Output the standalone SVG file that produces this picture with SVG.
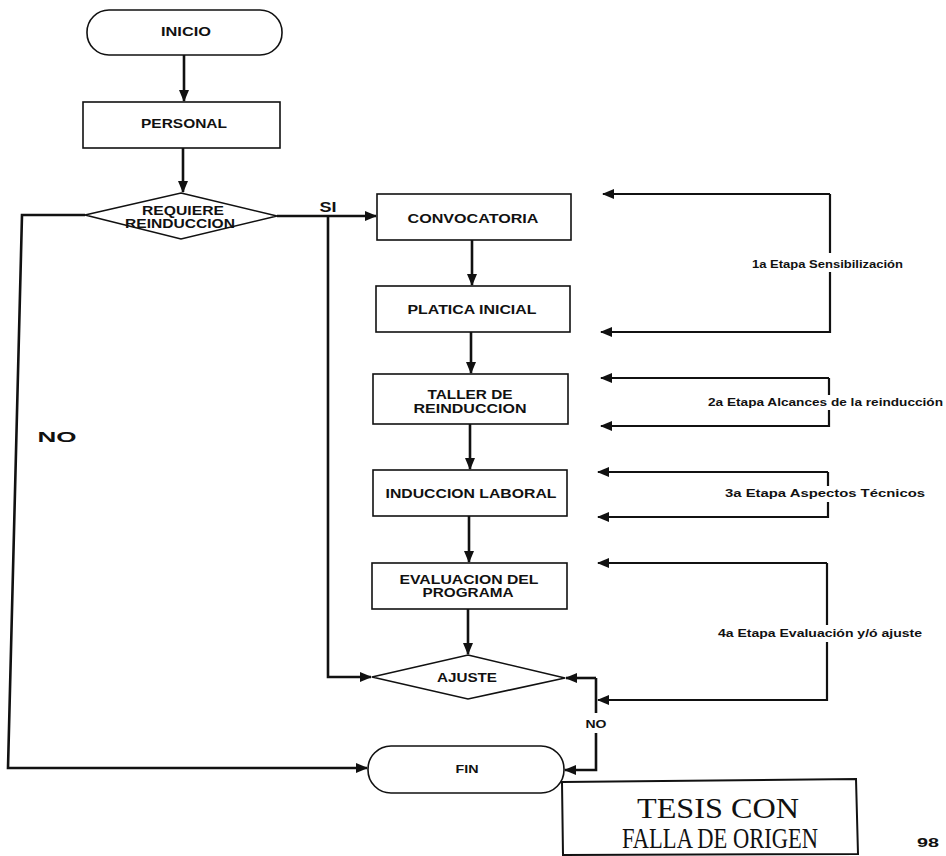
<svg xmlns="http://www.w3.org/2000/svg" width="946" height="856" viewBox="0 0 946 856">
<style>
.shape{fill:#fff;stroke:#111;stroke-width:1.6}
.conn{fill:none;stroke:#111;stroke-width:2.6}
.loop{fill:none;stroke:#111;stroke-width:2.2}
.t{font-family:"Liberation Sans",Arial,sans-serif;font-weight:bold;fill:#111;text-anchor:middle;font-size:12px}
.s{font-family:"Liberation Sans",Arial,sans-serif;font-weight:bold;fill:#111;text-anchor:start;font-size:10px}
.stamp{font-family:"Liberation Serif","Times New Roman",serif;fill:#111;text-anchor:middle;font-size:29px}
</style>
<defs>
<marker id="ah" markerUnits="userSpaceOnUse" markerWidth="12" markerHeight="10" refX="11" refY="5" orient="auto">
<path d="M0,0 L12,5 L0,10 Z" fill="#111"/>
</marker>
</defs>
<rect width="946" height="856" fill="#fff"/>

<g id="connectors">
<path class="conn" d="M184,55 V101" marker-end="url(#ah)"/>
<path class="conn" d="M183,148 V192" marker-end="url(#ah)"/>
<path class="conn" d="M277,216 H376" marker-end="url(#ah)"/>
<path class="conn" d="M328,216 V677 H371" marker-end="url(#ah)"/>
<path class="conn" d="M472,240 V285" marker-end="url(#ah)"/>
<path class="conn" d="M471,332 V373" marker-end="url(#ah)"/>
<path class="conn" d="M470,424 V469" marker-end="url(#ah)"/>
<path class="conn" d="M469,516 V562" marker-end="url(#ah)"/>
<path class="conn" d="M468,609 V654" marker-end="url(#ah)"/>
<path class="conn" d="M596,678 H566" marker-end="url(#ah)"/>
<path class="conn" d="M596,678 V713"/>
<path class="conn" d="M596,733 V770 H565" marker-end="url(#ah)"/>
<path class="conn" d="M85,215 H22 L8,768 H367" marker-end="url(#ah)"/>
<!-- 1a etapa -->
<path class="loop" d="M830,194 H603" marker-end="url(#ah)"/>
<path class="loop" d="M830,194 V253"/>
<path class="loop" d="M830,272 V332 H601" marker-end="url(#ah)"/>
<!-- 2a etapa -->
<path class="loop" d="M829,378 H601" marker-end="url(#ah)"/>
<path class="loop" d="M829,378 V395"/>
<path class="loop" d="M829,410 V426 H601" marker-end="url(#ah)"/>
<!-- 3a etapa -->
<path class="loop" d="M828,472 H598" marker-end="url(#ah)"/>
<path class="loop" d="M828,472 V486"/>
<path class="loop" d="M828,502 V517 H598" marker-end="url(#ah)"/>
<!-- 4a etapa -->
<path class="loop" d="M827,563 H598" marker-end="url(#ah)"/>
<path class="loop" d="M827,563 V625"/>
<path class="loop" d="M827,642 V700 H598" marker-end="url(#ah)"/>
</g>

<g id="inicio">
<rect class="shape" x="87" y="10" width="195" height="45" rx="22" ry="22"/>
<text class="t" x="186" y="36" textLength="50" lengthAdjust="spacingAndGlyphs">INICIO</text>
</g>
<g id="personal">
<rect class="shape" x="83" y="102" width="197" height="46"/>
<text class="t" x="184" y="128" textLength="86" lengthAdjust="spacingAndGlyphs">PERSONAL</text>
</g>
<g id="requiere">
<polygon class="shape" points="181,193 277,216 181,239 85,215"/>
<text class="t" x="183" y="215" textLength="82" lengthAdjust="spacingAndGlyphs">REQUIERE</text>
<text class="t" x="180" y="228" textLength="110" lengthAdjust="spacingAndGlyphs">REINDUCCION</text>
</g>
<g id="convocatoria">
<rect class="shape" x="377" y="194" width="194" height="46"/>
<text class="t" x="473" y="223" textLength="131" lengthAdjust="spacingAndGlyphs" style="font-size:13px">CONVOCATORIA</text>
</g>
<g id="platica">
<rect class="shape" x="376" y="286" width="194" height="46"/>
<text class="t" x="472" y="314" textLength="129" lengthAdjust="spacingAndGlyphs">PLATICA INICIAL</text>
</g>
<g id="taller">
<rect class="shape" x="373" y="374" width="195" height="50"/>
<text class="t" x="470" y="399" textLength="85" lengthAdjust="spacingAndGlyphs">TALLER DE</text>
<text class="t" x="470" y="413" textLength="113" lengthAdjust="spacingAndGlyphs">REINDUCCION</text>
</g>
<g id="induccion">
<rect class="shape" x="373" y="470" width="194" height="46"/>
<text class="t" x="471" y="498" textLength="171" lengthAdjust="spacingAndGlyphs">INDUCCION LABORAL</text>
</g>
<g id="evaluacion">
<rect class="shape" x="372" y="563" width="195" height="46"/>
<text class="t" x="469" y="584" textLength="139" lengthAdjust="spacingAndGlyphs">EVALUACION DEL</text>
<text class="t" x="468" y="597" textLength="91" lengthAdjust="spacingAndGlyphs">PROGRAMA</text>
</g>
<g id="ajuste">
<polygon class="shape" points="468,655 565,678 468,699 372,677"/>
<text class="t" x="467" y="682" textLength="60" lengthAdjust="spacingAndGlyphs">AJUSTE</text>
</g>
<g id="fin">
<rect class="shape" x="368" y="746" width="196" height="47" rx="23" ry="23"/>
<text class="t" x="467" y="773" textLength="23" lengthAdjust="spacingAndGlyphs" style="font-size:10px">FIN</text>
</g>

<g id="labels">
<text class="t" x="328" y="212" textLength="17" lengthAdjust="spacingAndGlyphs" style="font-size:14px">SI</text>
<text class="t" x="57" y="442" textLength="39" lengthAdjust="spacingAndGlyphs" style="font-size:15px">NO</text>
<text class="t" x="596" y="728" textLength="21" lengthAdjust="spacingAndGlyphs" style="font-size:11px">NO</text>
<text class="s" x="752" y="268" textLength="151" lengthAdjust="spacingAndGlyphs">1a Etapa Sensibilización</text>
<text class="s" x="708" y="406" textLength="235" lengthAdjust="spacingAndGlyphs">2a Etapa Alcances de la reinducción</text>
<text class="s" x="725" y="497" textLength="200" lengthAdjust="spacingAndGlyphs">3a Etapa Aspectos Técnicos</text>
<text class="s" x="718" y="637" textLength="204" lengthAdjust="spacingAndGlyphs">4a Etapa Evaluación y/ó ajuste</text>
</g>

<g id="sello">
<path d="M562,782 L856,779 L858,854 L563,855 Z" fill="none" stroke="#111" stroke-width="2"/>
<text class="stamp" x="718" y="818" textLength="162" lengthAdjust="spacingAndGlyphs">TESIS CON</text>
<text class="stamp" x="720" y="848" textLength="196" lengthAdjust="spacingAndGlyphs">FALLA DE ORIGEN</text>
</g>
<text class="t" x="928" y="847" textLength="22" lengthAdjust="spacingAndGlyphs" style="font-size:12px">98</text>
</svg>
